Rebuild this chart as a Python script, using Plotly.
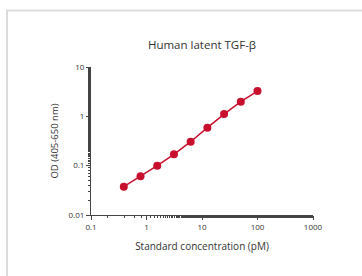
import plotly.graph_objects as go

conc = [0.39, 0.78, 1.56, 3.125, 6.25, 12.5, 25, 50, 100]
od = [0.0375, 0.061, 0.10, 0.17, 0.306, 0.59, 1.11, 1.98, 3.25]
x_ticks = [0.1, 1, 10, 100, 1000]
x_labels = ["0.1", "1", "10", "100", "1000"]
y_ticks = [0.01, 0.1, 1, 10]
y_labels = ["0.01", "0.1", "1", "10"]

red = "#c8102e"
fig = go.Figure()
fig.add_trace(go.Scatter(x=conc, y=od, mode="lines+markers",
                         line=dict(color=red, width=1.5),
                         marker=dict(color=red, size=8)))

font = "Open Sans, sans-serif"
axc = "#444"
fig.update_layout(
    width=362, height=276,
    margin=dict(l=91, r=49, t=67, b=61),
    paper_bgcolor="white", plot_bgcolor="white",
    showlegend=False,
    font=dict(family=font, color="#333", size=8),
    title=dict(text="Human latent TGF-β", x=(91 + 111) / 362, xanchor="center",
               y=1 - 45 / 276, yanchor="middle", font=dict(size=11.5, color="#333")),
)
fig.update_xaxes(type="log", range=[-1, 3], tickvals=x_ticks, ticktext=x_labels,
                 showline=True, linecolor=axc, linewidth=1, ticks="outside",
                 ticklen=4, tickcolor=axc, showgrid=False, zeroline=False,
                 minor=dict(ticks="outside", ticklen=2, tickcolor=axc, showgrid=False),
                 title=dict(text="Standard concentration (pM)", font=dict(size=10), standoff=12))
fig.update_yaxes(type="log", range=[-2, 1], tickvals=y_ticks, ticktext=y_labels,
                 showline=True, linecolor=axc, linewidth=1, ticks="outside",
                 ticklen=4, tickcolor=axc, showgrid=False, zeroline=False,
                 minor=dict(ticks="outside", ticklen=2, tickcolor=axc, showgrid=False),
                 title=dict(text="OD (405-650 nm)", font=dict(size=9.5), standoff=8))
fig.add_shape(type="rect", xref="paper", yref="paper",
              x0=(7 - 91) / 222, x1=1.5, y0=-0.6, y1=(215 - 10) / 148.3,
              line=dict(color="#dcdcdc", width=2), fillcolor="rgba(0,0,0,0)", layer="below")
fig.write_html("out.html", config={"displayModeBar": False},
               post_script="document.body.style.margin='0px';document.body.style.overflow='hidden';")
